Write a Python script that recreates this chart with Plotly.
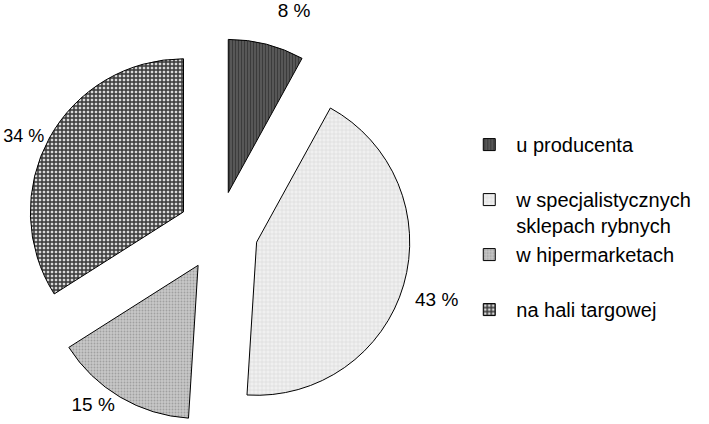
import plotly.graph_objects as go

categories = ["u producenta", "w specjalistycznych<br>sklepach rybnych", "w hipermarketach", "na hali targowej"]
legend_labels = ["u producenta<br> ", "w specjalistycznych<br>sklepach rybnych", "w hipermarketach<br> ", "na hali targowej<br> "]
values = [8, 43, 15, 34]
label_templates = ["%{value} %<br> ", " <br>%{value} %", "%{value} %", "%{value} %"]
label_sizes = [19, 19, 19, 18]
colors = ["#4f4f4f", "#ebebeb", "#c6c6c6", "#8e8e8e"]
pattern_shapes = ["|", "+", ".", "+"]
pattern_fg = ["#383838", "#d4d4d4", "#a0a0a0", "#383838"]
pattern_bg = ["#575757", "#f0f0f0", "#c8c8c8", "#d8d8d8"]
pattern_size = [3, 4, 3, 4]
pattern_solidity = [0.3, 0.25, 0.3, 0.6]

FONT = "Liberation Sans, Arial, sans-serif"

fig = go.Figure(go.Pie(
    labels=legend_labels,
    values=values,
    sort=False,
    direction="clockwise",
    rotation=0,
    pull=[0.26] * len(values),
    automargin=False,
    marker=dict(
        colors=colors,
        line=dict(color="black", width=1),
        pattern=dict(shape=pattern_shapes, fgcolor=pattern_fg, bgcolor=pattern_bg,
                     size=pattern_size, solidity=pattern_solidity, fillmode="replace"),
    ),
    texttemplate=label_templates,
    textposition="outside",
    outsidetextfont=dict(family=FONT, size=label_sizes, color="black"),
    domain=dict(x=[0.006, 0.61], y=[0.0, 0.91]),
    hoverinfo="label+percent",
))

fig.update_layout(
    width=709, height=424,
    margin=dict(l=0, r=0, t=0, b=0, autoexpand=False),
    paper_bgcolor="white",
    plot_bgcolor="white",
    font=dict(family=FONT, size=19, color="black"),
    legend=dict(
        x=0.652, y=0.705, xanchor="left", yanchor="top",
        font=dict(family=FONT, size=20, color="black"),
        valign="top",
        itemwidth=44,
        bgcolor="rgba(0,0,0,0)",
    ),
)

fig.write_html("out.html")
